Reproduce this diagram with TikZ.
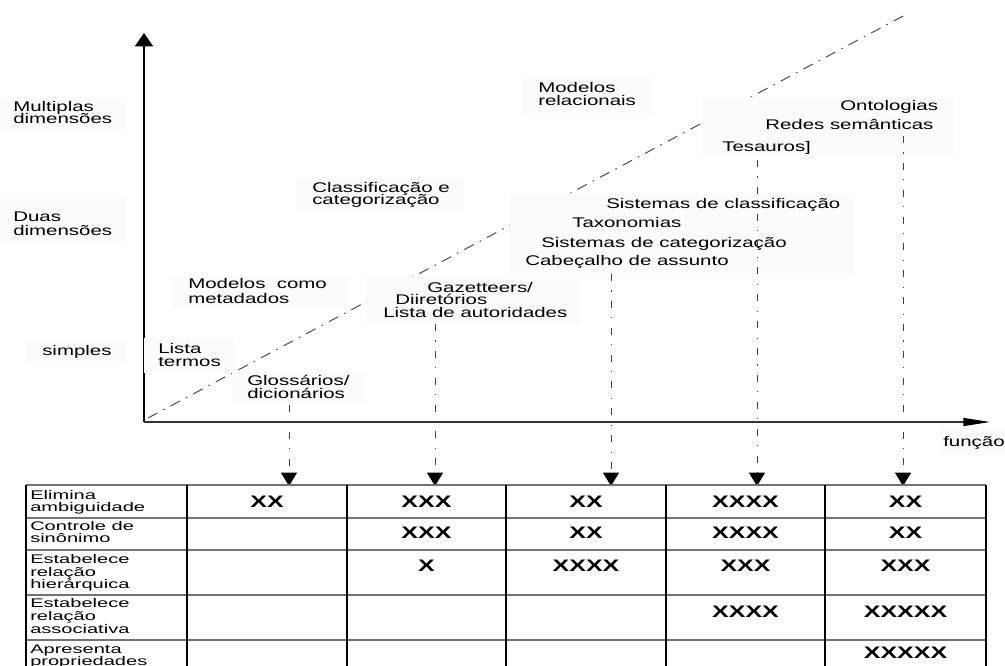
\documentclass[tikz,border=0pt]{standalone}
\usepackage{fontspec}
\setmainfont{Liberation Sans}[FakeStretch=1.46]
\newfontfamily\tblfont{Liberation Sans}[FakeStretch=1.6]
\newfontfamily\xfont{Liberation Sans}[FakeStretch=1.5]
\usetikzlibrary{arrows.meta}
\tikzset{
  lbl/.style={font=\fontsize{10.5}{12}\selectfont, inner sep=0pt, anchor=base west},
  tlbl/.style={font=\tblfont\fontsize{9.4}{11}\selectfont, inner sep=0pt, anchor=base west},
  xmk/.style={font=\xfont\bfseries\fontsize{12.5}{14}\selectfont, inner sep=0pt, anchor=center},
  bgbox/.style={fill=black!1.5, draw=none},
  ddash/.style={dash pattern=on 5.25pt off 7pt on 0.9pt off 7pt, line width=0.75pt, black!75},
  diag/.style={dash pattern=on 8pt off 5pt on 1.2pt off 5pt, line width=0.75pt, black!70},
  downarr/.style={ddash, -{Triangle[width=12pt,length=10pt,color=black,fill=black]}},
  hline/.style={line width=1pt, black!55},
  vline/.style={line width=0.9pt, black},
}
\begin{document}
\begin{tikzpicture}[x=0.75pt,y=-0.75pt]
\useasboundingbox (0,0) rectangle (1005,666);
% axes
\coordinate (o) at (144,422);
\coordinate (yt) at (144,33);
\coordinate (xt) at (990,422);
\draw[line width=1pt, -{Triangle[width=13.5pt,length=10pt]}] (o) -- (yt);
\draw[line width=1pt, black!80, -{Triangle[width=6pt,length=20pt,color=black,fill=black]}] (o) -- (xt);
% diagonal
\coordinate (d0) at (148,418);
\coordinate (d1) at (905,15);
\draw[diag] (d0) -- (d1);
% background boxes
\fill[bgbox] (0,97) rectangle (125,130);
\fill[bgbox] (0,199) rectangle (125,242);
\fill[bgbox] (26,340) rectangle (125,361);
\fill[bgbox] (144,338) rectangle (235,373);
\fill[bgbox] (232,372) rectangle (363,404);
\fill[bgbox] (172,276) rectangle (347,309);
\fill[bgbox] (367,277) rectangle (580,323);
\fill[bgbox] (297,178) rectangle (464,212);
\fill[bgbox] (523,78) rectangle (652,113);
\fill[bgbox] (703,97) rectangle (953,157);
\fill[bgbox] (510,193) rectangle (853,273);
\fill[bgbox] (940,430) rectangle (1005,455);
% labels
\node[lbl] (m1) at (13,112) {Multiplas};
\node[lbl] (m2) at (13,124) {dimensões};
\node[lbl] (du1) at (13,222) {Duas};
\node[lbl] (du2) at (13,236) {dimensões};
\node[lbl] (si) at (42,355) {simples};
\node[lbl] (lt1) at (158,353) {Lista};
\node[lbl] (lt2) at (158,366) {termos};
\node[lbl] (gl1) at (247,385) {Glossários/};
\node[lbl] (gl2) at (247,398) {dicionários};
\node[lbl] (mc1) at (188,289) {Modelos\ \ como};
\node[lbl] (mc2) at (188,303) {metadados};
\node[lbl] (gz1) at (427,292) {Gazetteers/};
\node[lbl] (gz2) at (395,305) {Diiretórios};
\node[lbl] (gz3) at (383,317) {Lista de autoridades};
\node[lbl] (cc1) at (312,193) {Classificação e};
\node[lbl] (cc2) at (312,205) {categorização};
\node[lbl] (mr1) at (538,93) {Modelos};
\node[lbl] (mr2) at (538,106) {relacionais};
\node[lbl] (on) at (840,111) {Ontologias};
\node[lbl] (rs) at (765,130) {Redes semânticas};
\node[lbl] (te) at (722,152) {Tesauros]};
\node[lbl] (sc) at (606,209) {Sistemas de classificação};
\node[lbl] (tx) at (572,228) {Taxonomias};
\node[lbl] (sg) at (541,248) {Sistemas de categorização};
\node[lbl] (ca) at (525,266) {Cabeçalho de assunto};
\node[lbl] (fu) at (943,446) {função};
% vertical connectors
\coordinate (s1) at (289,405); \coordinate (e1) at (289,486);
\coordinate (s2) at (435,324); \coordinate (e2) at (435,486);
\coordinate (s3) at (611,274); \coordinate (e3) at (611,486);
\coordinate (s4) at (757,160); \coordinate (e4) at (757,486);
\coordinate (s5) at (903,136); \coordinate (e5) at (903,486);
\draw[downarr] (s1) -- (e1);
\draw[downarr] (s2) -- (e2);
\draw[downarr] (s3) -- (e3);
\draw[downarr] (s4) -- (e4);
\draw[downarr] (s5) -- (e5);
% table
\foreach \y in {485,518,550,595,640} \draw[hline] (26,\y) -- (986,\y);
\foreach \x in {26,187,347,506,666,825,986} \draw[vline] (\x,485) -- (\x,667);
\node[tlbl] (r1a) at (30,499) {Elimina};
\node[tlbl] (r1b) at (30,511) {ambiguidade};
\node[tlbl] (r2a) at (30,530) {Controle de};
\node[tlbl] (r2b) at (30,542) {sinônimo};
\node[tlbl] (r3a) at (30,563) {Estabelece};
\node[tlbl] (r3b) at (30,576) {relação};
\node[tlbl] (r3c) at (30,588) {hierárquica};
\node[tlbl] (r4a) at (30,607) {Estabelece};
\node[tlbl] (r4b) at (30,620) {relação};
\node[tlbl] (r4c) at (30,633) {associativa};
\node[tlbl] (r5a) at (30,653) {Apresenta};
\node[tlbl] (r5b) at (30,665) {propriedades};
% marks
\node[xmk] (x11) at (267,502) {XX};
\node[xmk] (x12) at (426.5,502) {XXX};
\node[xmk] (x13) at (586,502) {XX};
\node[xmk] (x14) at (745.5,502) {XXXX};
\node[xmk] (x15) at (905.5,502) {XX};
\node[xmk] (x22) at (426.5,533) {XXX};
\node[xmk] (x23) at (586,533) {XX};
\node[xmk] (x24) at (745.5,533) {XXXX};
\node[xmk] (x25) at (905.5,533) {XX};
\node[xmk] (x32) at (426.5,566) {X};
\node[xmk] (x33) at (586,566) {XXXX};
\node[xmk] (x34) at (745.5,566) {XXX};
\node[xmk] (x35) at (905.5,566) {XXX};
\node[xmk] (x44) at (745.5,612) {XXXX};
\node[xmk] (x45) at (905.5,612) {XXXXX};
\node[xmk] (x55) at (905.5,653) {XXXXX};
\end{tikzpicture}
\end{document}
